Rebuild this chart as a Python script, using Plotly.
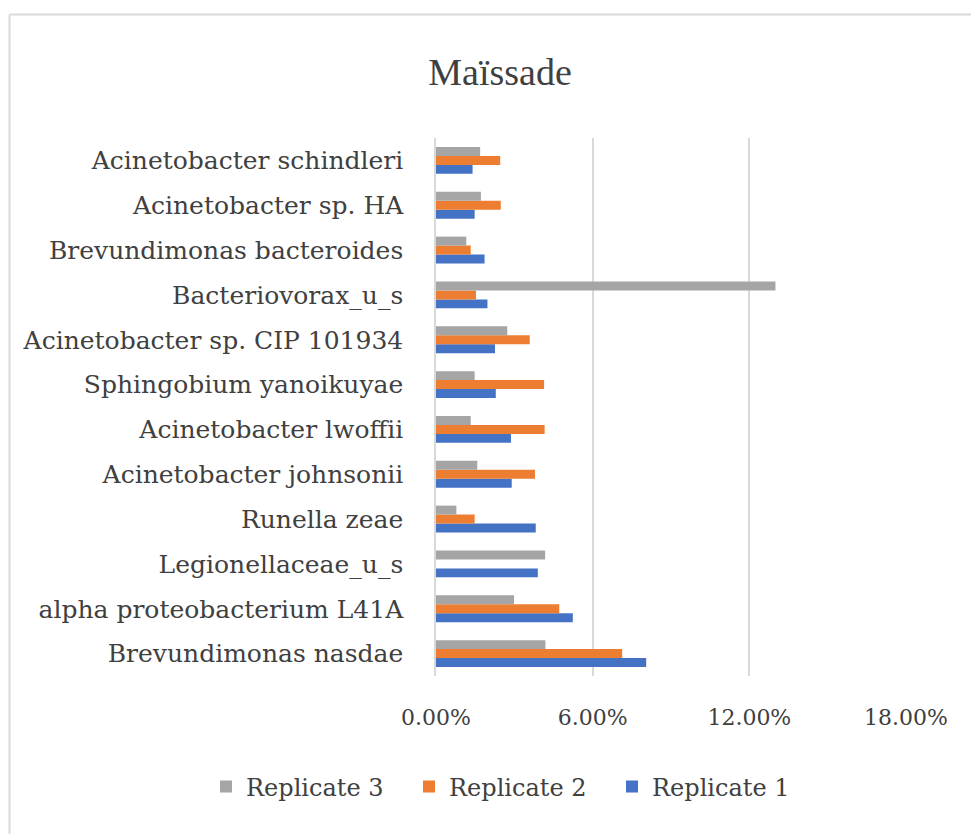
import plotly.graph_objects as go

categories = [
    "Brevundimonas nasdae",
    "alpha proteobacterium L41A",
    "Legionellaceae_u_s",
    "Runella zeae",
    "Acinetobacter johnsonii",
    "Acinetobacter lwoffii",
    "Sphingobium yanoikuyae",
    "Acinetobacter sp. CIP 101934",
    "Bacteriovorax_u_s",
    "Brevundimonas bacteroides",
    "Acinetobacter sp. HA",
    "Acinetobacter schindleri",
]
replicate_1 = [0.0805, 0.0524, 0.0390, 0.0382, 0.0290, 0.0287, 0.0229, 0.0226, 0.0197, 0.0186, 0.0148, 0.0140]
replicate_2 = [0.0713, 0.0472, 0.0, 0.0148, 0.0379, 0.0416, 0.0414, 0.0359, 0.0153, 0.0133, 0.0248, 0.0246]
replicate_3 = [0.0419, 0.0299, 0.0418, 0.0078, 0.0158, 0.0133, 0.0148, 0.0273, 0.1300, 0.0116, 0.0172, 0.0169]
series_names = ["Replicate 1", "Replicate 2", "Replicate 3"]
colors = ["#4472c4", "#ed7d31", "#a5a5a5"]
tick_vals = [0, 0.06, 0.12, 0.18]
tick_text = ["0.00%", "6.00%", "12.00%", "18.00%"]

FONT = "DejaVu Serif"
TXT = "#404040"

fig = go.Figure()
for name, vals, col in zip(series_names, [replicate_1, replicate_2, replicate_3], colors):
    fig.add_trace(go.Bar(y=categories, x=vals, name=name, orientation="h",
                         marker=dict(color=col, line=dict(width=0))))

OFF = 8  # page body margin
W, H = 979, 834
L, R = 436 - OFF, W - (906 - OFF)
T, B = 138 - OFF, H - (676 - OFF)
pw, ph = W - L - R, H - T - B

def px(p):
    return (p - OFF - L) / pw

def py(p):
    return (H - B - (p - OFF)) / ph

fig.update_layout(
    width=W, height=H,
    margin=dict(l=L, r=R, t=T, b=B),
    paper_bgcolor="white", plot_bgcolor="white",
    barmode="group", bargap=0.4, bargroupgap=0,
    font=dict(family=FONT, color=TXT, size=24),
    title=dict(text="Maïssade", x=(500 - OFF) / W, xanchor="center",
               y=1 - (72 - OFF) / H, yanchor="middle",
               yref="container", xref="container",
               font=dict(family="Liberation Serif", size=38, color=TXT)),
    xaxis=dict(range=[0, 0.18], tickvals=tick_vals, ticktext=tick_text,
               showgrid=True, gridcolor="#d9d9d9", gridwidth=1.5, zeroline=False,
               showline=False, ticks="", tickfont=dict(size=22), ticklabelstandoff=26),
    yaxis=dict(showline=True, linecolor="#d9d9d9", linewidth=1.5, ticks="",
               showgrid=False, tickfont=dict(size=25), ticklabelstandoff=26),
    legend=dict(orientation="h", traceorder="reversed",
                x=px(206), xanchor="left",
                y=py(787), yanchor="middle",
                font=dict(size=24), itemwidth=30,
                entrywidth=158, entrywidthmode="pixels"),
    showlegend=True,
    shapes=[
        dict(type="line", xref="paper", yref="paper", x0=px(9.5), x1=px(9.5),
             y0=py(840), y1=py(14.5), line=dict(color="#d9d9d9", width=2), layer="below"),
        dict(type="line", xref="paper", yref="paper", x0=px(9.5), x1=px(1000),
             y0=py(14.5), y1=py(14.5), line=dict(color="#d9d9d9", width=2), layer="below"),
    ],
)

fig.write_html("out.html")
